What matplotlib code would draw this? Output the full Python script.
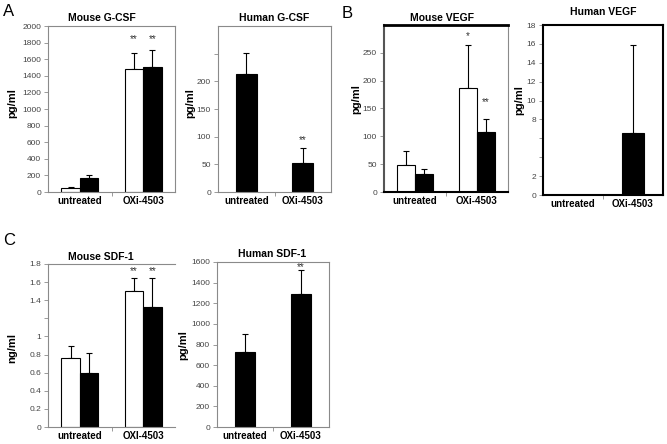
import matplotlib
matplotlib.use("Agg")
import matplotlib.pyplot as plt
import numpy as np

# ---------------------------------------------------------------------------
# Data
# ---------------------------------------------------------------------------
categories = ["untreated", "OXi-4503"]
categories_sdf = ["untreated", "OXI-4503"]

# Mouse G-CSF (pg/ml): white / black bars, upper error
mouse_gcsf_white = [50, 1487]
mouse_gcsf_white_err = [12, 188]
mouse_gcsf_black = [169, 1511]
mouse_gcsf_black_err = [40, 205]

# Human G-CSF (pg/ml)
human_gcsf = [213, 53]
human_gcsf_err = [38, 27]

# Mouse VEGF (pg/ml)
mouse_vegf_white = [49, 187]
mouse_vegf_white_err = [24, 77]
mouse_vegf_black = [32, 107]
mouse_vegf_black_err = [10, 25]

# Human VEGF (pg/ml)
human_vegf = [0, 6.6]
human_vegf_err = [0, 9.3]

# Mouse SDF-1 (ng/ml)
mouse_sdf_white = [0.76, 1.50]
mouse_sdf_white_err = [0.14, 0.15]
mouse_sdf_black = [0.60, 1.33]
mouse_sdf_black_err = [0.22, 0.31]

# Human SDF-1 (pg/ml)
human_sdf = [729, 1286]
human_sdf_err = [172, 233]

# ---------------------------------------------------------------------------
# Layout helpers (pixel coordinates of the 667x444 reference)
# ---------------------------------------------------------------------------
W, H = 667, 444
plt.rcParams['font.family'] = ['Liberation Sans', 'DejaVu Sans']

fig = plt.figure(figsize=(W / 100, H / 100), dpi=100)


def px(x, y):
    return x / W, 1 - y / H


def make_axes(l, t, r, b):
    return fig.add_axes([l / W, 1 - b / H, (r - l) / W, (b - t) / H])


GRAY = '#8a8a8a'
TICK_COLOR = '#444444'
OFF = 0.145  # half the group offset for paired bars
BW_PAIR = 0.29
BW_SINGLE = 0.37


def style_axes(ax, cats, yticks, ylabels, ylim, spines=None):
    ax.set_xlim(-0.5, 1.5)
    ax.set_ylim(*ylim)
    ax.set_xticks([0, 1])
    ax.set_xticklabels(cats, fontsize=7, fontweight='bold')
    ax.set_xticks([0.5], minor=True)
    ax.tick_params(axis='x', which='major', length=0, pad=3)
    ax.tick_params(axis='x', which='minor', length=3, color=GRAY, width=0.6)
    ax.set_yticks(yticks)
    ax.set_yticklabels(ylabels)
    ax.tick_params(axis='y', length=3, width=0.6, color=GRAY, labelsize=6,
                   labelcolor=TICK_COLOR, pad=2)
    spines = spines or {}
    for side in ['left', 'right', 'top', 'bottom']:
        color, lw = spines.get(side, (GRAY, 0.8))
        if lw == 0:
            ax.spines[side].set_visible(False)
        else:
            ax.spines[side].set_color(color)
            ax.spines[side].set_linewidth(lw)


def paired_bars(ax, white, white_err, black, black_err):
    x = np.arange(len(white))
    ax.bar(x - OFF, white, BW_PAIR, color='white', edgecolor='black', linewidth=0.8, zorder=2)
    ax.bar(x + OFF, black, BW_PAIR, color='black', edgecolor='black', linewidth=0.8, zorder=2)
    ax.errorbar(x - OFF, white, yerr=[np.zeros(len(white)), white_err], fmt='none',
                ecolor='black', elinewidth=0.8, capsize=2, capthick=0.8, zorder=1)
    ax.errorbar(x + OFF, black, yerr=[np.zeros(len(black)), black_err], fmt='none',
                ecolor='black', elinewidth=0.8, capsize=2, capthick=0.8, zorder=1)


def single_bars(ax, vals, errs):
    x = np.arange(len(vals))
    ax.bar(x, vals, BW_SINGLE, color='black', edgecolor='black', linewidth=0.8, zorder=2)
    keep = [i for i, v in enumerate(vals) if v > 0]
    ax.errorbar(x[keep], np.array(vals)[keep],
                yerr=[np.zeros(len(keep)), np.array(errs)[keep]], fmt='none',
                ecolor='black', elinewidth=0.8, capsize=2, capthick=0.8, zorder=1)


def stars(ax, x, y, s):
    ax.text(x, y, s, ha='center', va='baseline', fontsize=7, color='#333333')


# ---------------------------------------------------------------------------
# A: Mouse G-CSF
# ---------------------------------------------------------------------------
ax = make_axes(48, 26, 175, 192)
paired_bars(ax, mouse_gcsf_white, mouse_gcsf_white_err, mouse_gcsf_black, mouse_gcsf_black_err)
yt = list(range(0, 2001, 200))
style_axes(ax, categories, yt, [str(v) for v in yt], (0, 2000))
stars(ax, 1 - OFF, 1810, '**')
stars(ax, 1 + OFF, 1810, '**')

# A: Human G-CSF
ax = make_axes(218, 26, 331, 192)
single_bars(ax, human_gcsf, human_gcsf_err)
yt = list(range(0, 251, 50))
style_axes(ax, categories, yt, [str(v) if v < 250 else '' for v in yt], (0, 300))
stars(ax, 1, 88, '**')

# ---------------------------------------------------------------------------
# B: Mouse VEGF
# ---------------------------------------------------------------------------
ax = make_axes(384, 25, 508, 192)
paired_bars(ax, mouse_vegf_white, mouse_vegf_white_err, mouse_vegf_black, mouse_vegf_black_err)
yt = list(range(0, 251, 50))
style_axes(ax, categories, yt, [str(v) for v in yt], (0, 300),
           spines={'top': ('black', 2.0), 'bottom': ('black', 1.5),
                   'left': ('#555555', 1.5), 'right': (GRAY, 0.8)})
stars(ax, 1 - OFF, 275, '*')
stars(ax, 1 + OFF, 156, '**')

# B: Human VEGF
ax = make_axes(543, 25, 663, 195)
single_bars(ax, human_vegf, human_vegf_err)
yt = list(range(0, 19, 2))
style_axes(ax, categories, yt, ['' if v in (4, 6) else str(v) for v in yt], (0, 18),
           spines={s: ('black', 1.5) for s in ['left', 'right', 'top', 'bottom']})

# ---------------------------------------------------------------------------
# C: Mouse SDF-1
# ---------------------------------------------------------------------------
ax = make_axes(48, 264, 175, 427)
paired_bars(ax, mouse_sdf_white, mouse_sdf_white_err, mouse_sdf_black, mouse_sdf_black_err)
yt = [0, 0.2, 0.4, 0.6, 0.8, 1.0, 1.2, 1.4, 1.6, 1.8]
yl = ['0', '0.2', '0.4', '0.6', '0.8', '1', '', '1.4', '1.6', '1.8']
style_axes(ax, categories_sdf, yt, yl, (0, 1.8),
           spines={'right': (GRAY, 0), 'top': (GRAY, 0.8)})
stars(ax, 1 - OFF, 1.69, '**')
stars(ax, 1 + OFF, 1.69, '**')

# C: Human SDF-1
ax = make_axes(217, 262, 329, 427)
single_bars(ax, human_sdf, human_sdf_err)
yt = list(range(0, 1601, 200))
style_axes(ax, categories, yt, [str(v) for v in yt], (0, 1600))
stars(ax, 1, 1525, '**')

# ---------------------------------------------------------------------------
# Titles, y labels and panel letters
# ---------------------------------------------------------------------------
titles = [("Mouse G-CSF", 102, 18), ("Human G-CSF", 274.5, 18),
          ("Mouse VEGF", 441.5, 18), ("Human VEGF", 603.5, 12),
          ("Mouse SDF-1", 101, 257), ("Human SDF-1", 272, 254)]
for text, x, y in titles:
    fig.text(*px(x, y), text, ha='center', va='center', fontsize=7.5, fontweight='bold')

ylabels = [("pg/ml", 12, 103), ("pg/ml", 190, 103), ("pg/ml", 356, 99),
           ("pg/ml", 519, 100), ("ng/ml", 12, 348), ("pg/ml", 183, 345)]
for text, x, y in ylabels:
    fig.text(*px(x, y), text, ha='center', va='center', rotation=90,
             fontsize=8, fontweight='bold')

for letter, x, y in [("A", 9, 11), ("B", 347.5, 13), ("C", 9.5, 240.5)]:
    fig.text(*px(x, y), letter, ha='center', va='center', fontsize=12)

fig.savefig("out.png", dpi=100)
